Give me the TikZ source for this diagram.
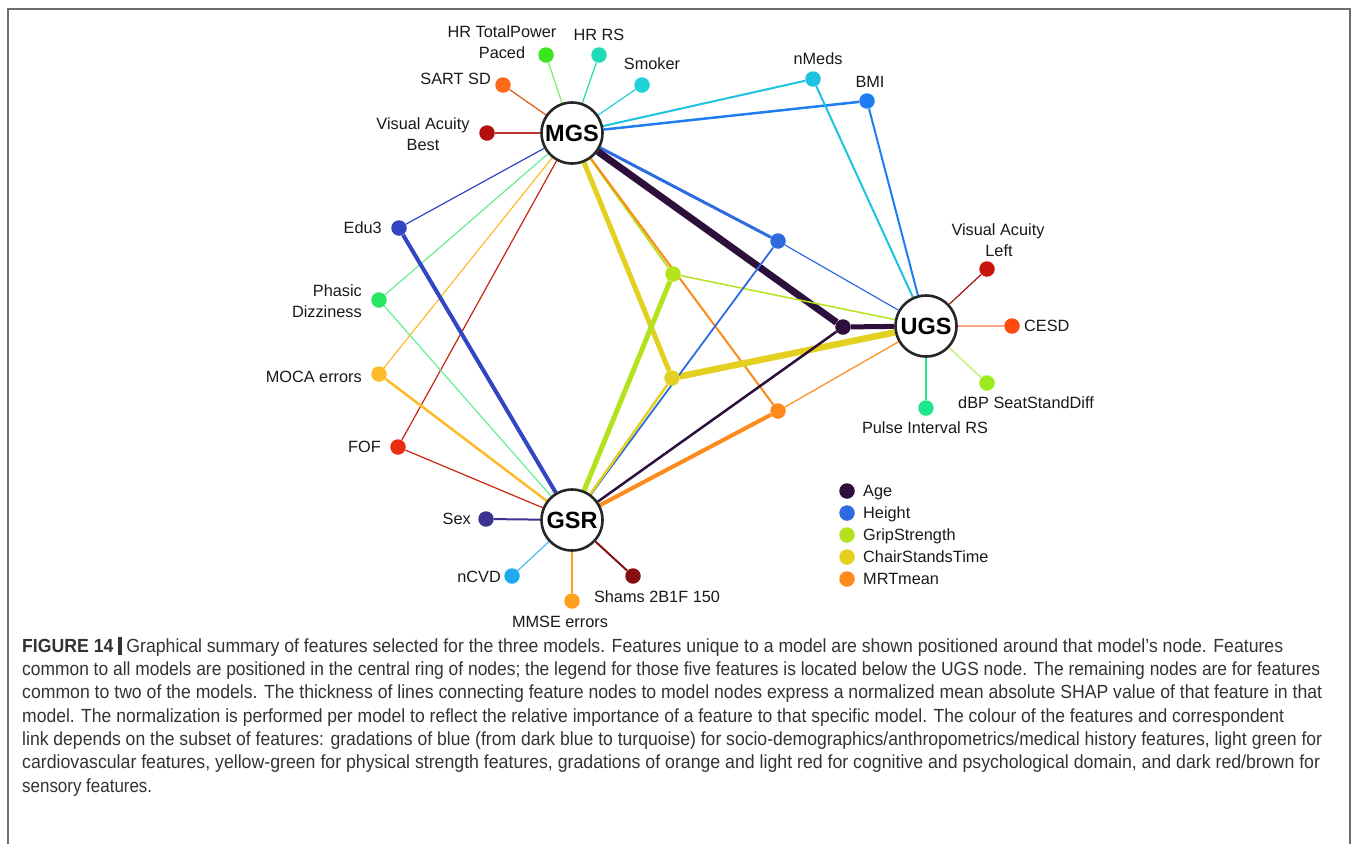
\documentclass[tikz,border=0pt]{standalone}
\usepackage{fontspec}
\usepackage{graphicx}
\setmainfont{Liberation Sans}
\newfontfamily\capfont{Liberation Sans}
\definecolor{cAge}{HTML}{2D0F3C}
\definecolor{cHeight}{HTML}{2F6BE0}
\definecolor{cGrip}{HTML}{B4E31E}
\definecolor{cChair}{HTML}{E3D020}
\definecolor{cMRT}{HTML}{FF8A1C}
\definecolor{cHRTP}{HTML}{3CE61E}
\definecolor{cHRRS}{HTML}{1EDCB4}
\definecolor{cSmoker}{HTML}{1ED2D7}
\definecolor{cSART}{HTML}{FF6A1A}
\definecolor{cVAB}{HTML}{B40F0F}
\definecolor{cnMeds}{HTML}{1EC3E1}
\definecolor{cBMI}{HTML}{1E7DF0}
\definecolor{cEdu}{HTML}{3246C3}
\definecolor{cPhasic}{HTML}{28E664}
\definecolor{cMOCA}{HTML}{FBBC28}
\definecolor{cFOF}{HTML}{EB2D0F}
\definecolor{cVAL}{HTML}{C8160C}
\definecolor{cCESD}{HTML}{FF4B0F}
\definecolor{cdBP}{HTML}{9BEB1E}
\definecolor{cPulse}{HTML}{1EE68C}
\definecolor{cSex}{HTML}{3C3291}
\definecolor{cnCVD}{HTML}{1EAAF0}
\definecolor{cMMSE}{HTML}{FFA01E}
\definecolor{cShams}{HTML}{870F0F}
\definecolor{cFrame}{HTML}{6E6E6E}
\definecolor{cCap}{HTML}{333333}
\pgfdeclarelayer{edges}
\pgfsetlayers{edges,main}
\begin{document}
\begin{tikzpicture}[x=1pt,y=-1pt,
  model/.style={circle,draw=black!85,line width=2.6pt,fill=white,minimum size=61pt,inner sep=0pt,font=\bfseries\fontsize{23.5}{23.5}\selectfont},
  fdot/.style={circle,fill=#1,minimum size=15.5pt,inner sep=0pt},
  lab/.style={font=\fontsize{16.3}{16.3}\selectfont,text=black!90,inner sep=0pt},
  ew/.style={line width=#1},
  capline/.style={anchor=base west,inner sep=0pt,text=cCap},
]
\useasboundingbox (0,0) rectangle (1356,844);
\draw[cFrame,line width=1.3pt] (8,844) -- (8,9) -- (1350,9) -- (1350,844);

% model nodes
\node[model] (MGS) at (572,133) {MGS};
\node[model] (UGS) at (926,326) {UGS};
\node[model] (GSR) at (572,520) {GSR};

% feature dots
\node[fdot=cHRTP] (hrtp) at (546,55) {};
\node[fdot=cHRRS] (hrrs) at (599,55) {};
\node[fdot=cSmoker] (smk) at (642,85) {};
\node[fdot=cSART] (sart) at (503,85) {};
\node[fdot=cVAB] (vab) at (487,133) {};
\node[fdot=cnMeds] (nmeds) at (813,79) {};
\node[fdot=cBMI] (bmi) at (867,101) {};
\node[fdot=cEdu] (edu) at (399,228) {};
\node[fdot=cPhasic] (phd) at (379,300) {};
\node[fdot=cMOCA] (moca) at (379,374) {};
\node[fdot=cFOF] (fof) at (398,447) {};
\node[fdot=cVAL] (val) at (987,269) {};
\node[fdot=cCESD] (cesd) at (1012,326) {};
\node[fdot=cdBP] (dbp) at (987,383) {};
\node[fdot=cPulse] (pir) at (926,408) {};
\node[fdot=cSex] (sex) at (486,519) {};
\node[fdot=cnCVD] (ncvd) at (512,576) {};
\node[fdot=cMMSE] (mmse) at (572,601) {};
\node[fdot=cShams] (shams) at (633,576) {};
\node[fdot=cAge] (age) at (843,327) {};
\node[fdot=cHeight] (hgt) at (778,241) {};
\node[fdot=cGrip] (grip) at (673,274) {};
\node[fdot=cChair] (chair) at (672,378) {};
\node[fdot=cMRT] (mrt) at (778,411) {};

% labels
\node[lab,anchor=base] (lhrtp) at (502,37.7) {HR TotalPower};
\node[lab,anchor=base] (lhrtpb) at (502,58.7) {Paced};
\node[lab,anchor=base] (lhrrs) at (599,40.7) {HR RS};
\node[lab,anchor=base] (lsmk) at (652,69.7) {Smoker};
\node[lab,anchor=base east] (lsart) at (491,84.7) {SART SD};
\node[lab,anchor=base] (lvab) at (423,129.7) {Visual Acuity};
\node[lab,anchor=base] (lvabb) at (423,150.7) {Best};
\node[lab,anchor=base] (lnmeds) at (818,64.7) {nMeds};
\node[lab,anchor=base] (lbmi) at (870,87.7) {BMI};
\node[lab,anchor=base] (lval) at (998,235.7) {Visual Acuity};
\node[lab,anchor=base] (lvalb) at (999,256.7) {Left};
\node[lab,anchor=base west] (lcesd) at (1024,331.7) {CESD};
\node[lab,anchor=base] (ldbp) at (1026,408.7) {dBP SeatStandDiff};
\node[lab,anchor=base] (lpir) at (925,433.7) {Pulse Interval RS};
\node[lab,anchor=base east] (lsex) at (471,524.7) {Sex};
\node[lab,anchor=base east] (lncvd) at (501,582.7) {nCVD};
\node[lab,anchor=base] (lmmse) at (560,627.7) {MMSE errors};
\node[lab,anchor=base] (lshams) at (657,602.7) {Shams 2B1F 150};
\node[lab,anchor=base east] (ledu) at (382,233.7) {Edu3};
\node[lab,anchor=base east] (lphd) at (362,296.7) {Phasic};
\node[lab,anchor=base east] (lphdb) at (362,317.7) {Dizziness};
\node[lab,anchor=base east] (lmoca) at (362,382.7) {MOCA errors};
\node[lab,anchor=base east] (lfof) at (381,452.7) {FOF};

% legend
\node[fdot=cAge] (gAge) at (847,491) {};
\node[fdot=cHeight] (gHeight) at (847,513) {};
\node[fdot=cGrip] (gGrip) at (847,535) {};
\node[fdot=cChair] (gChair) at (847,557) {};
\node[fdot=cMRT] (gMRT) at (847,579) {};
\node[lab,anchor=base west] (tAge) at (863,496.7) {Age};
\node[lab,anchor=base west] (tHeight) at (863,518.7) {Height};
\node[lab,anchor=base west] (tGrip) at (863,540.7) {GripStrength};
\node[lab,anchor=base west] (tChair) at (863,562.7) {ChairStandsTime};
\node[lab,anchor=base west] (tMRT) at (863,584.7) {MRTmean};

% edges
\begin{pgfonlayer}{edges}
% MGS
\draw[cHRTP!70!white,ew=1.2pt] (MGS) -- (hrtp);
\draw[cHRRS,ew=1.2pt] (MGS) -- (hrrs);
\draw[cSmoker,ew=1.2pt] (MGS) -- (smk);
\draw[cSART!85!black,ew=1.2pt] (MGS) -- (sart);
\draw[cVAB!85!white,ew=1.2pt] (MGS) -- (vab);
\draw[cnMeds,ew=2pt] (MGS) -- (nmeds);
\draw[cBMI,ew=2.5pt] (MGS) -- (bmi);
\draw[cEdu,ew=1.2pt] (MGS) -- (edu);
\draw[cPhasic!70!white,ew=1.2pt] (MGS) -- (phd);
\draw[cMOCA,ew=1.2pt] (MGS) -- (moca);
\draw[cFOF!85!black,ew=1.2pt] (MGS) -- (fof);
\draw[cGrip,ew=2pt] (MGS) -- (grip);
\draw[cChair,ew=5pt] (MGS) -- (chair);
\draw[cMRT,ew=2pt] (MGS) -- (mrt);
\draw[cHeight,ew=3pt] (MGS) -- (hgt);
\draw[cAge,ew=7pt] (MGS) -- (age);
% UGS
\draw[cnMeds,ew=2pt] (UGS) -- (nmeds);
\draw[cBMI,ew=2pt] (UGS) -- (bmi);
\draw[cVAL!80!black,ew=1.2pt] (UGS) -- (val);
\draw[cCESD!50!white,ew=1.5pt] (UGS) -- (cesd);
\draw[cdBP!60!white,ew=1.5pt] (UGS) -- (dbp);
\draw[cPulse,ew=1.5pt] (UGS) -- (pir);
\draw[cHeight,ew=1.2pt] (UGS) -- (hgt);
\draw[cGrip,ew=1.5pt] (UGS) -- (grip);
\draw[cMRT,ew=1.2pt] (UGS) -- (mrt);
\draw[cChair,ew=6.5pt] (UGS) -- (chair);
\draw[cAge,ew=5pt] (UGS) -- (age);
% GSR
\draw[cEdu,ew=4pt] (GSR) -- (edu);
\draw[cPhasic!70!white,ew=1.2pt] (GSR) -- (phd);
\draw[cMOCA,ew=2.5pt] (GSR) -- (moca);
\draw[cFOF!85!black,ew=1.2pt] (GSR) -- (fof);
\draw[cSex,ew=2pt] (GSR) -- (sex);
\draw[cnCVD!80!white,ew=1.2pt] (GSR) -- (ncvd);
\draw[cMMSE,ew=1.2pt] (GSR) -- (mmse);
\draw[cShams,ew=2pt] (GSR) -- (shams);
\draw[cHeight,ew=1.8pt] (GSR) -- (hgt);
\draw[cChair,ew=2.5pt] (GSR) -- (chair);
\draw[cGrip,ew=5pt] (GSR) -- (grip);
\draw[cAge,ew=2.5pt] (GSR) -- (age);
\draw[cMRT,ew=4pt] (GSR) -- (mrt);
\end{pgfonlayer}

% caption
\begingroup
\capfont\fontsize{19}{22}\selectfont
\node[capline] (cap1) at (22,652) {\resizebox{1261pt}{\height}{\textbf{FIGURE 14}\ \rule[-3pt]{3.5pt}{18pt}\ Graphical summary of features selected for the three models. Features unique to a model are shown positioned around that model’s node. Features}};
\node[capline] (cap2) at (22,675) {\resizebox{1298pt}{\height}{common to all models are positioned in the central ring of nodes; the legend for those five features is located below the UGS node. The remaining nodes are for features}};
\node[capline] (cap3) at (22,698) {\resizebox{1300pt}{\height}{common to two of the models. The thickness of lines connecting feature nodes to model nodes express a normalized mean absolute SHAP value of that feature in that}};
\node[capline] (cap4) at (22,722) {\resizebox{1262pt}{\height}{model. The normalization is performed per model to reflect the relative importance of a feature to that specific model. The colour of the features and correspondent}};
\node[capline] (cap5) at (22,745) {\resizebox{1300pt}{\height}{link depends on the subset of features: gradations of blue (from dark blue to turquoise) for socio-demographics/anthropometrics/medical history features, light green for}};
\node[capline] (cap6) at (22,768) {\resizebox{1298pt}{\height}{cardiovascular features, yellow-green for physical strength features, gradations of orange and light red for cognitive and psychological domain, and dark red/brown for}};
\node[capline] (cap7) at (22,792) {\resizebox{130pt}{\height}{sensory features.}};
\endgroup
\end{tikzpicture}
\end{document}
